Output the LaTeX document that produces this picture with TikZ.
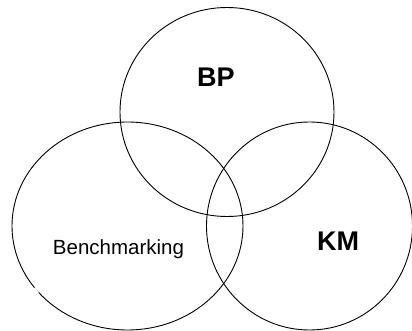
\documentclass[tikz,border=0pt]{standalone}
\usepackage{fontspec}
\setmainfont{Liberation Sans}
\usetikzlibrary{shapes.geometric}

\tikzset{set/.style={ellipse, draw, line width=.9pt, inner sep=0pt},
         bigname/.style={font=\bfseries\fontsize{27}{30}\selectfont, anchor=base},
         smallname/.style={font=\fontsize{20.5}{24}\selectfont, anchor=base}}

\begin{document}
\begin{tikzpicture}[x=1pt,y=-1pt]
  \useasboundingbox (0,0) rectangle (412,331);

  % Draw the sets
  \node[set, minimum width=214pt, minimum height=209pt] at (227,112)   (bp)    {};
  \node[set, minimum width=231pt, minimum height=208pt] at (127.5,226) (bench) {};
  \node[set, minimum width=206pt, minimum height=208pt] at (309.5,226) (km)    {};

  % Small break in the left outline
  \draw[white, line width=4pt] (33.5,288.8) -- (37.5,293.4);

  % Names of the sets
  \node[bigname]   at (216,86.5) (bpname)    {BP};
  \node[smallname] at (118.5,254) (benchname) {Benchmarking};
  \node[bigname]   at (338,250)   (kmname)    {KM};
\end{tikzpicture}
\end{document}
